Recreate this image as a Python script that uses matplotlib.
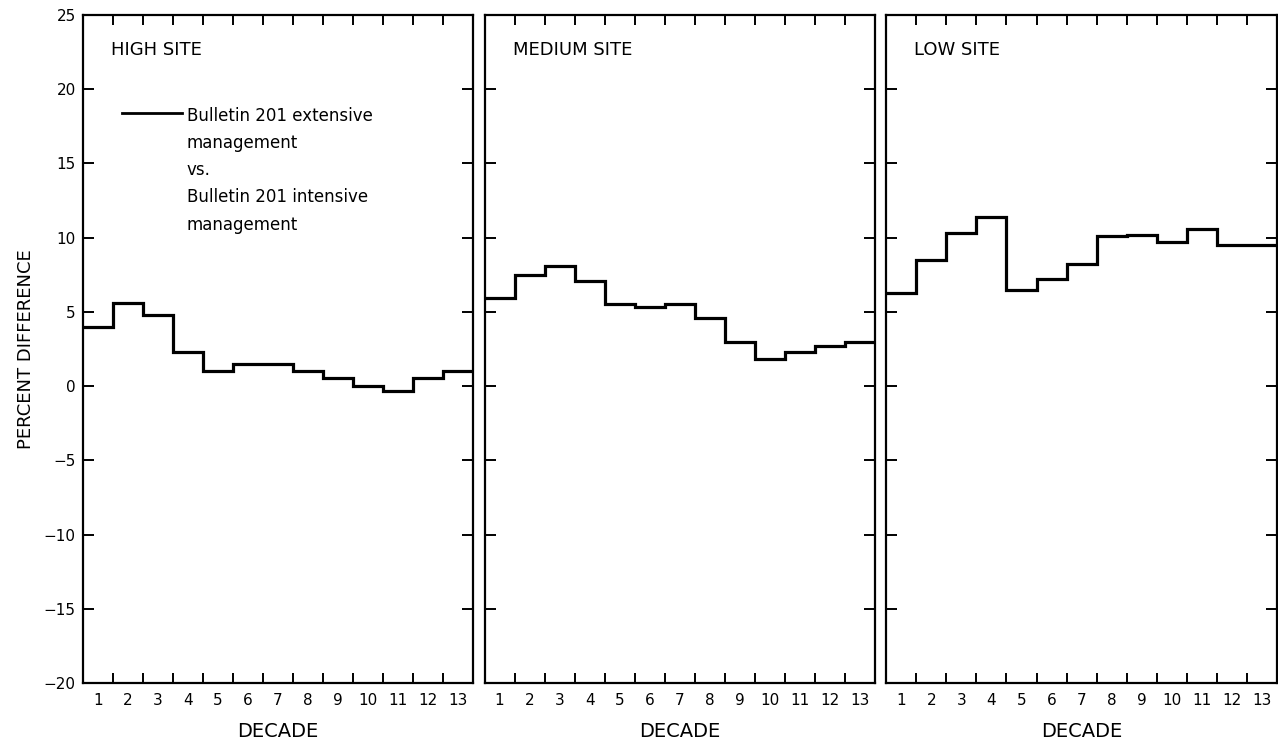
import numpy as np
import matplotlib
matplotlib.use("Agg")
from matplotlib import pyplot as plt
from matplotlib.lines import Line2D

# percent difference per decade
decades = np.arange(1, 14)
high_site = [4.0, 5.6, 4.8, 2.3, 1.0, 1.5, 1.5, 1.0, 0.55, 0.0, -0.33, 0.57, 1.0]
medium_site = [5.9, 7.5, 8.1, 7.1, 5.5, 5.3, 5.5, 4.6, 3.0, 1.8, 2.3, 2.7, 3.0]
low_site = [6.3, 8.5, 10.3, 11.4, 6.5, 7.2, 8.2, 10.1, 10.2, 9.7, 10.6, 9.5, 9.5]

panel_titles = ["HIGH SITE", "MEDIUM SITE", "LOW SITE"]
series = [high_site, medium_site, low_site]
yticks = np.arange(-20, 26, 5)
legend_label = "Bulletin 201 extensive\nmanagement\nvs.\nBulletin 201 intensive\nmanagement"

plt.rcParams['font.family'] = ['DejaVu Sans']

fig, axes = plt.subplots(1, 3, figsize=(12.78, 7.45), dpi=100, sharey=True)
fig.subplots_adjust(left=0.0647, right=0.999, top=0.980, bottom=0.0832, wspace=0.0295)

edges = np.arange(0.5, 14, 1.0)

for i, ax in enumerate(axes):
    ax.stairs(series[i], edges, baseline=None, color="black", lw=2.3)
    ax.set_xlim(0.5, 13.5)
    ax.set_ylim(-20, 25)
    ax.set_yticks(yticks)
    ax.set_xticks(edges[1:-1])
    ax.set_xticks(decades, minor=True)
    ax.set_xticklabels([])
    ax.set_xticklabels([str(d) for d in decades], minor=True, fontsize=11)
    ax.tick_params(axis="x", which="major", direction="in", top=True, bottom=True,
                   length=7, width=1.4)
    ax.tick_params(axis="x", which="minor", length=0, pad=7)
    ax.tick_params(axis="y", direction="in", left=True, right=True,
                   length=8, width=1.4, labelsize=11, pad=5)
    for sp in ax.spines.values():
        sp.set_linewidth(1.6)
    ax.set_xlabel("DECADE", fontsize=14, labelpad=10)
    ax.text(0.072, 0.948, panel_titles[i], transform=ax.transAxes,
            fontsize=13, va="center", ha="left")

axes[0].set_ylabel("PERCENT DIFFERENCE", fontsize=13, labelpad=6)

handle = Line2D([], [], color="black", lw=2.0)
leg = axes[0].legend([handle], [legend_label], loc="upper left",
                     bbox_to_anchor=(0.10, 0.862), frameon=False,
                     borderpad=0, borderaxespad=0, handlelength=3.6,
                     handletextpad=0.3, fontsize=12)
leg.get_texts()[0].set_linespacing(1.65)
# put the key line next to the first text line
for col in leg._legend_handle_box.get_children():
    for item in col.get_children():
        item.align = "top"

fig.savefig("out.png", dpi=100)
